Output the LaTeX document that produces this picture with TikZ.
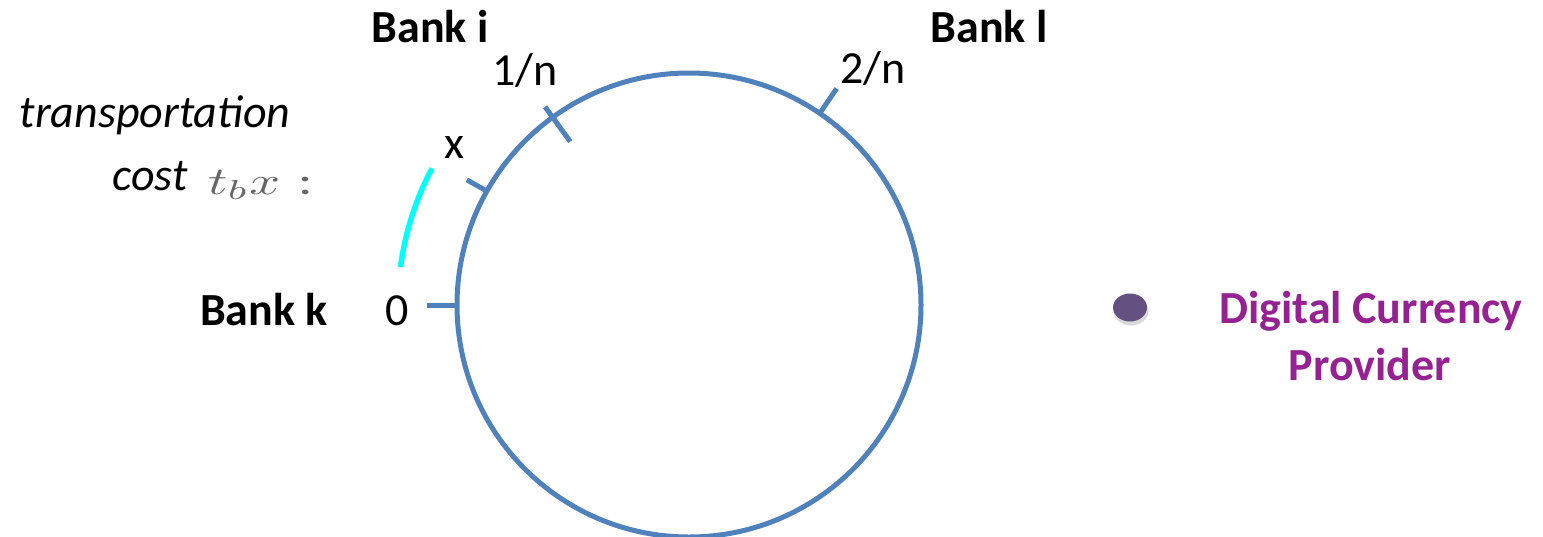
\documentclass[tikz,border=0pt]{standalone}
\usepackage{fontspec}
\setmainfont{Carlito}
\usepackage{xcolor}
\usetikzlibrary{calc}

\definecolor{ringblue}{RGB}{79,129,189}
\definecolor{costcyan}{RGB}{0,255,255}
\definecolor{dcpurple}{RGB}{150,33,146}
\definecolor{dotpurple}{RGB}{101,80,130}

\tikzset{
  lbl/.style={inner sep=0pt, anchor=base, font=\fontsize{46}{50}\selectfont},
  banklbl/.style={lbl, font=\fontsize{46}{50}\selectfont\bfseries},
  tick/.style={ringblue, line width=5pt}
}

\begin{document}
\begin{tikzpicture}[x=1pt, y=-1pt]
    \useasboundingbox (0,0) rectangle (1543,536);

    % Cerchio (banche sul cerchio unitario)
    \coordinate (c) at (689,305);
    \draw[ringblue, line width=5pt] (c) circle (232);

    % Tacche (asse y verso il basso: angoli negativi)
    \draw[tick] ($(c)+(-180:232)$) -- ($(c)+(-180:262)$);
    \draw[tick] ($(c)+(-150.6:230)$) -- ($(c)+(-150.6:255)$);
    \draw[tick] ($(c)+(-126:202)$) -- ($(c)+(-126:245)$);
    \draw[tick] ($(c)+(-55.7:230)$) -- ($(c)+(-55.7:262)$);

    % Costo di trasporto
    \draw[costcyan, line width=5.5pt] ($(c)+(-172.5:291)$) arc[start angle=-172.5, end angle=-152, radius=291];

    \node[banklbl] (banki) at (430,42) {Bank i};
    \node[banklbl] (bankl) at (989,42) {Bank l};
    \node[banklbl] (bankk) at (264,325) {Bank k};
    \node[lbl] (one) at (525,85) {1/n};
    \node[lbl] (two) at (873,83) {2/n};
    \node[lbl] (xpos) at (454,158) {x};
    \node[lbl] (zero) at (397,325) {0};
    \node[lbl, font=\fontsize{46}{50}\selectfont\itshape] (transp) at (155,127) {transportation};
    \node[lbl, font=\fontsize{46}{50}\selectfont\itshape] (cost) at (150,190) {cost};
    \node[inner sep=0pt, anchor=base west, text=black!60] (tbx) at (208,194)
        {\scalebox{5.4}[3.9]{$t_bx$\,\,:}};

    % Fornitore di valuta digitale
    \fill[black, opacity=0.15] (1131,311) ellipse [x radius=17.5, y radius=14.5];
    \fill[dotpurple] (1130,307.5) ellipse [x radius=17, y radius=14];
    \node[lbl, font=\fontsize{46}{50}\selectfont\bfseries, text=dcpurple] (dig) at (1371,323) {Digital Currency};
    \node[lbl, font=\fontsize{46}{50}\selectfont\bfseries, text=dcpurple] (prov) at (1370,380) {Provider};
\end{tikzpicture}
\end{document}
